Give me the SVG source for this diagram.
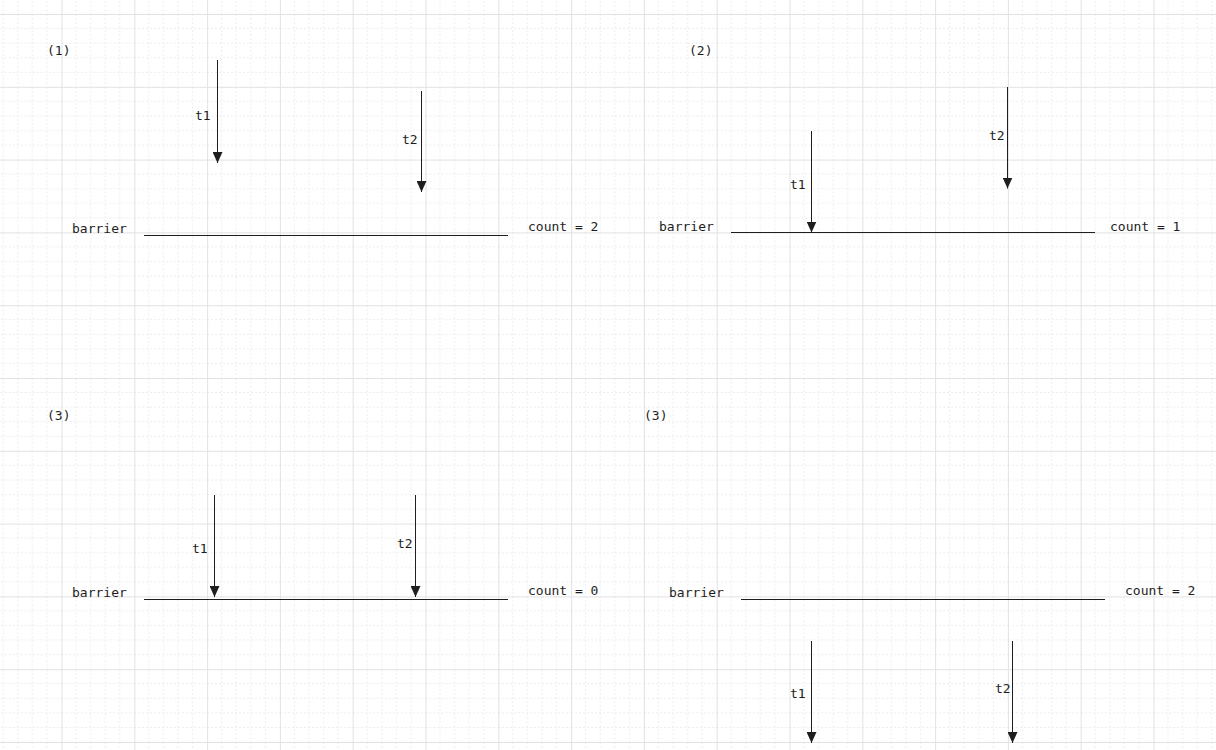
<svg xmlns="http://www.w3.org/2000/svg" width="1216" height="750" viewBox="0 0 1216 750">
<style>
.t{font-family:"DejaVu Sans Mono","Liberation Mono",monospace;font-size:13px;fill:#1e1e1e}
.bar{stroke:#1e1e1e;stroke-width:1;fill:none}
.arr{stroke:#1e1e1e;stroke-width:1;fill:none;marker-end:url(#ah)}
.maj{stroke:#e2e2e2;stroke-width:1}
.min{stroke:#ececec;stroke-width:1;stroke-dasharray:2 2}
</style>
<defs>
<marker id="ah" viewBox="0 0 11 10" refX="11" refY="5" markerWidth="11" markerHeight="10" markerUnits="userSpaceOnUse" orient="auto">
<path d="M0,0 L11,5 L0,10 Z" fill="#1e1e1e"/>
</marker>
<pattern id="grid" patternUnits="userSpaceOnUse" x="61.5" y="14" width="72.8" height="72.8">
<path class="min" d="M14.56,0V72.8M29.12,0V72.8M43.68,0V72.8M58.24,0V72.8M0,14.56H72.8M0,29.12H72.8M0,43.68H72.8M0,58.24H72.8"/>
<path class="maj" d="M0.5,0V72.8M0,0.5H72.8"/>
</pattern>
</defs>
<rect width="1216" height="750" fill="#ffffff"/>
<rect width="1216" height="750" fill="url(#grid)"/>

<g id="panel1">
<text class="t" x="47" y="55">(1)</text>
<g id="p1-barrier"><text class="t" x="72" y="233">barrier</text><line class="bar" x1="144" y1="235.5" x2="508" y2="235.5"/></g>
<g id="p1-count"><text class="t" x="528" y="231">count = 2</text></g>
<g id="p1-t1"><text class="t" x="195" y="120">t1</text></g>
<g id="p1-t2"><text class="t" x="402" y="144">t2</text></g>
</g>

<g id="panel2">
<text class="t" x="689" y="55">(2)</text>
<g id="p2-barrier"><text class="t" x="659" y="231">barrier</text><line class="bar" x1="731" y1="232.5" x2="1095" y2="232.5"/></g>
<g id="p2-count"><text class="t" x="1110" y="231">count = 1</text></g>
<g id="p2-t1"><text class="t" x="790" y="189">t1</text></g>
<g id="p2-t2"><text class="t" x="989" y="140">t2</text></g>
</g>

<g id="panel3">
<text class="t" x="47" y="420">(3)</text>
<g id="p3-barrier"><text class="t" x="72" y="597">barrier</text><line class="bar" x1="144" y1="599.5" x2="508" y2="599.5"/></g>
<g id="p3-count"><text class="t" x="528" y="595">count = 0</text></g>
<g id="p3-t1"><text class="t" x="192" y="553">t1</text></g>
<g id="p3-t2"><text class="t" x="397" y="548">t2</text></g>
</g>

<g id="panel4">
<text class="t" x="644" y="420">(3)</text>
<g id="p4-barrier"><text class="t" x="669" y="597">barrier</text><line class="bar" x1="741" y1="599.5" x2="1105" y2="599.5"/></g>
<g id="p4-count"><text class="t" x="1125" y="595">count = 2</text></g>
<g id="p4-t1"><text class="t" x="790" y="698">t1</text></g>
<g id="p4-t2"><text class="t" x="995" y="693">t2</text></g>
</g>

<g id="connectors">
<line class="arr" x1="217.5" y1="60" x2="217.5" y2="163"/>
<line class="arr" x1="421.5" y1="91" x2="421.5" y2="192"/>
<line class="arr" x1="811.5" y1="131" x2="811.5" y2="232.5"/>
<line class="arr" x1="1007.5" y1="87" x2="1007.5" y2="188.5"/>
<line class="arr" x1="214.5" y1="495" x2="214.5" y2="597"/>
<line class="arr" x1="415.5" y1="495" x2="415.5" y2="597"/>
<line class="arr" x1="811.5" y1="641" x2="811.5" y2="743"/>
<line class="arr" x1="1012.5" y1="641" x2="1012.5" y2="743"/>
</g>
</svg>
